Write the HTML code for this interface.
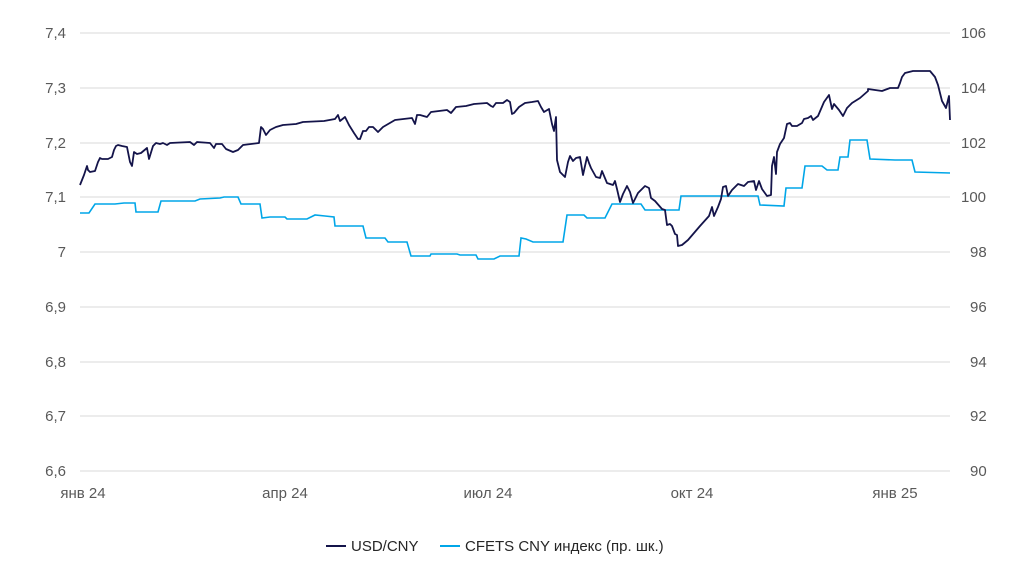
<!DOCTYPE html>
<html><head><meta charset="utf-8"><style>
body{margin:0;background:#fff;width:1024px;height:569px;overflow:hidden}
text{font-family:"Liberation Sans",sans-serif;font-size:15px;fill:#595959}
</style></head><body>
<svg width="1024" height="569" xmlns="http://www.w3.org/2000/svg">
<g stroke="#d9d9d9" stroke-width="1">
<line x1="80" x2="950" y1="33" y2="33"/><line x1="80" x2="950" y1="88" y2="88"/>
<line x1="80" x2="950" y1="143" y2="143"/><line x1="80" x2="950" y1="197" y2="197"/>
<line x1="80" x2="950" y1="252" y2="252"/><line x1="80" x2="950" y1="307" y2="307"/>
<line x1="80" x2="950" y1="362" y2="362"/><line x1="80" x2="950" y1="416" y2="416"/>
<line x1="80" x2="950" y1="471" y2="471"/>
</g>
<g text-anchor="end">
<text x="66" y="38">7,4</text><text x="66" y="93">7,3</text><text x="66" y="148">7,2</text>
<text x="66" y="202">7,1</text><text x="66" y="257">7</text><text x="66" y="312">6,9</text>
<text x="66" y="367">6,8</text><text x="66" y="421">6,7</text><text x="66" y="476">6,6</text>
</g>
<g>
<text x="961" y="38">106</text><text x="961" y="93">104</text><text x="961" y="148">102</text>
<text x="961" y="202">100</text><text x="970" y="257">98</text><text x="970" y="312">96</text>
<text x="970" y="367">94</text><text x="970" y="421">92</text><text x="970" y="476">90</text>
</g>
<g text-anchor="middle">
<text x="83" y="498">янв 24</text><text x="285" y="498">апр 24</text><text x="488" y="498">июл 24</text>
<text x="692" y="498">окт 24</text><text x="895" y="498">янв 25</text>
</g>
<polyline fill="none" stroke="#00a6e8" stroke-width="1.6" points="80,213 89,213 95,204 115,204 124,203 135,203 136,212 158,212 161,201 195,201 200,199 220,198 224,197 238,197 241,204 260,204 262,218 270,217 285,217 287,219 307,219 315,215 325,216 334,217 335,226 363,226 366,238 385,238 388,242 407,242 411,256 430,256 431,254 457,254 460,255 476,255 478,259 494,259 500,256 519,256 521,238 526,239 533,242 563,242 567,215 584,215 587,218 605,218 612,204 641,204 645,210 679,210 681,196 758,196 760,205 784,206 786,188 802,188 805,166 822,166 827,170 838,170 840,157 848,157 850,140 867,140 870,159 895,160 912,160 915,172 950,173"/>
<polyline fill="none" stroke="#14144a" stroke-width="1.8" stroke-linejoin="round" points="80,185 84,175 87,166 88,170 90,172 95,171 98,162 100,158 102,159 108,159 112,157 114,150 116,146 118,145 122,146 127,147 130,162 132,166 134,152 137,154 141,153 147,148 149,159 153,146 156,143 160,144 163,143 167,145 170,143 190,142 194,145 197,142 210,143 214,148 216,144 222,144 226,149 233,152 238,150 243,145 259,143 261,127 263,129 266,135 270,130 276,127 283,125 296,124 303,122 324,121 335,119 338,115 340,121 345,117 349,125 354,133 358,139 360,139 363,131 366,131 369,127 373,127 378,132 383,127 395,120 412,118 415,124 417,115 420,115 427,117 431,112 447,110 451,113 456,107 466,106 474,104 487,103 491,106 493,107 496,103 503,103 507,100 510,102 512,114 514,113 519,107 525,103 532,102 538,101 541,107 544,112 549,109 552,124 554,131 556,117 557,160 560,172 565,177 568,162 570,156 573,161 576,158 580,157 583,175 587,157 589,163 591,168 596,177 600,178 602,171 607,183 613,185 615,181 617,189 620,202 623,194 627,186 630,192 633,203 638,193 645,186 649,188 651,198 655,201 662,209 665,210 667,225 670,224 672,226 675,234 677,235 678,246 682,245 688,240 700,226 709,216 712,207 714,216 718,207 721,199 723,187 726,186 728,196 732,190 738,184 744,186 748,182 754,181 756,190 759,181 762,189 767,196 771,195 772,166 774,157 776,174 777,152 780,144 784,138 787,124 790,123 792,126 797,126 802,123 804,119 808,118 811,116 813,120 818,116 824,102 829,95 832,109 834,104 839,110 843,116 847,108 852,103 860,98 868,91 868,89 875,90 882,91 890,88 898,88 900,83 902,77 905,73 913,71 930,71 935,77 938,85 942,101 946,108 949,96 950,120"/>
<line x1="326" x2="346" y1="546" y2="546" stroke="#14144a" stroke-width="2"/>
<text x="351" y="551" style="fill:#262626">USD/CNY</text>
<line x1="440" x2="460" y1="546" y2="546" stroke="#00a6e8" stroke-width="2"/>
<text x="465" y="551" style="fill:#262626">CFETS CNY индекс (пр. шк.)</text>
</svg>
</body></html>
